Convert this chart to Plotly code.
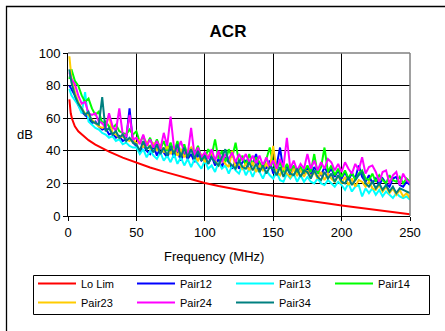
import plotly.graph_objects as go

# ---------------- data ----------------
freq = [1.0] + [2.5 * i for i in range(1, 101)]

lolim_freq = [1, 2, 3, 4, 5, 7.5, 10, 15, 20, 25, 30, 40, 50, 60, 70, 80, 90, 100,
              110, 120, 130, 140, 150, 160, 170, 180, 190, 200, 210, 220, 230, 240, 250]
lolim = [71.5, 63, 59.5, 57, 55, 52, 50, 46.5, 43.8, 41.5, 39.5, 35.8, 32.6, 29.8, 27.2, 24.8, 22.5, 20.3,
         18.4, 16.7, 15.1, 13.7, 12.4, 11.1, 9.9, 8.7, 7.6, 6.5, 5.4, 4.3, 3.2, 2.1, 1.0]

pair12 = [80, 78, 74, 68, 64, 62, 60, 57, 58, 55,
          53, 54, 50, 51, 48, 49, 46, 47, 66, 45,
          43, 39, 44, 40, 38, 43, 37, 42, 39, 36,
          41, 36, 40, 34, 39, 35, 38, 33, 38, 34,
          36, 32, 37, 31, 35, 30, 36, 33, 29, 34,
          29, 33, 34, 28, 32, 38, 28, 32, 29, 34,
          26, 31, 42, 27, 31, 25, 30, 25, 29, 26,
          29, 25, 30, 27, 25, 30, 26, 29, 24, 28,
          23, 27, 22, 26, 23, 31, 24, 21, 25, 20,
          23, 19, 23, 20, 18, 23, 24, 19, 18, 21,
          19]

pair13 = [78, 74, 71, 68, 63, 76, 58, 56, 54, 53,
          51, 50, 48, 49, 46, 47, 44, 45, 43, 42,
          42, 38, 41, 36, 40, 37, 35, 39, 34, 37,
          33, 38, 32, 36, 31, 35, 30, 35, 32, 29,
          34, 29, 31, 27, 33, 29, 31, 26, 31, 28,
          26, 31, 25, 29, 24, 29, 27, 23, 28, 25,
          23, 27, 22, 21, 26, 23, 26, 21, 25, 21,
          24, 21, 20, 23, 20, 19, 22, 20, 18, 21,
          19, 16, 20, 15, 18, 19, 12, 17, 14, 17,
          13, 16, 12, 15, 13, 11, 14, 12, 11, 12,
          10]

pair14 = [84, 90, 83, 80, 74, 70, 72, 66, 62, 64,
          57, 58, 55, 54, 56, 52, 51, 50, 53, 50,
          52, 45, 49, 43, 48, 42, 47, 41, 46, 40,
          45, 39, 46, 38, 44, 37, 42, 38, 43, 36,
          35, 41, 37, 47, 35, 40, 33, 41, 36, 45,
          33, 37, 31, 38, 31, 36, 33, 29, 35, 42,
          32, 28, 33, 27, 32, 28, 31, 26, 30, 27,
          31, 27, 38, 26, 30, 42, 27, 31, 25, 29,
          24, 28, 23, 27, 22, 26, 28, 23, 22, 26,
          21, 25, 22, 20, 25, 22, 21, 24, 20, 23,
          21]

pair23 = [98, 85, 76, 70, 66, 63, 62, 59, 57, 55,
          54, 55, 62, 51, 50, 48, 49, 47, 46, 48,
          44, 47, 42, 46, 41, 45, 40, 44, 39, 43,
          38, 42, 37, 41, 36, 40, 42, 37, 34, 38,
          33, 37, 39, 34, 31, 35, 32, 30, 40, 29,
          33, 29, 32, 28, 33, 27, 31, 28, 32, 29,
          43, 27, 25, 30, 26, 24, 29, 25, 28, 24,
          28, 24, 27, 23, 27, 22, 26, 23, 21, 25,
          20, 24, 19, 23, 18, 22, 21, 18, 21, 17,
          16, 19, 15, 18, 14, 17, 13, 16, 12, 14,
          11]

pair24 = [88, 84, 81, 74, 69, 70, 63, 62, 63, 58,
          57, 54, 63, 55, 52, 66, 50, 49, 62, 47,
          48, 44, 50, 43, 47, 42, 46, 41, 51, 43,
          61, 42, 40, 46, 39, 38, 54, 37, 42, 36,
          39, 35, 41, 34, 40, 33, 38, 35, 39, 33,
          38, 34, 38, 33, 37, 32, 37, 31, 36, 30,
          34, 29, 35, 30, 48, 29, 34, 28, 32, 29,
          38, 29, 34, 28, 33, 29, 35, 33, 28, 32,
          27, 33, 29, 26, 32, 28, 36, 26, 30, 31,
          27, 21, 27, 28, 20, 25, 27, 19, 26, 22,
          20]

pair34 = [90, 82, 74, 69, 66, 62, 64, 58, 57, 56,
          73, 52, 54, 50, 52, 48, 50, 46, 48, 45,
          44, 40, 46, 41, 43, 39, 44, 38, 42, 37,
          43, 38, 44, 36, 42, 36, 41, 35, 40, 34,
          37, 32, 36, 33, 31, 36, 41, 33, 31, 29,
          34, 30, 29, 33, 28, 32, 27, 31, 26, 30,
          29, 25, 30, 24, 29, 26, 25, 29, 24, 28,
          27, 23, 28, 24, 22, 27, 23, 26, 21, 25,
          21, 20, 24, 19, 22, 25, 27, 20, 18, 21,
          17, 20, 16, 19, 15, 18, 14, 17, 16, 15,
          14]

names = ["Lo Lim", "Pair12", "Pair13", "Pair14", "Pair23", "Pair24", "Pair34"]
colors = ["#FF0000", "#0000FF", "#00FFFF", "#00FF00", "#FFCC00", "#FF00FF", "#008080"]
x_ticks = [0, 50, 100, 150, 200, 250]
y_ticks = [0, 20, 40, 60, 80, 100]

# ---------------- layout helpers ----------------
W, H = 445, 331
L, R, T, B = 68, 35, 53, 115
PW = W - L - R
PH = H - T - B


def px(x):
    return (x - L) / PW


def py(y):
    return (H - B - y) / PH


FONT = "Liberation Sans, Arial, sans-serif"

fig = go.Figure()
xs_list = [lolim_freq, freq, freq, freq, freq, freq, freq]
ys_list = [lolim, pair12, pair13, pair14, pair23, pair24, pair34]
for name, xs, ys, col in zip(names, xs_list, ys_list, colors):
    fig.add_trace(go.Scatter(x=xs, y=ys, name=name, mode="lines",
                             line=dict(color=col, width=2)))

axis_common = dict(
    showgrid=True, gridcolor="black", gridwidth=1,
    showline=True, linecolor="black", linewidth=1,
    ticks="outside", ticklen=4, tickcolor="black", tickwidth=1,
    zeroline=False, tickfont=dict(family=FONT, size=13, color="black"),
)

fig.update_layout(
    width=W, height=H,
    margin=dict(l=L, r=R, t=T, b=B, autoexpand=False),
    paper_bgcolor="white", plot_bgcolor="white",
    font=dict(family=FONT, size=13, color="black"),
    title=dict(text="<b>ACR</b>", x=228 / W, xanchor="center",
               y=1 - 31 / H, yanchor="middle",
               font=dict(family=FONT, size=17, color="black")),
    xaxis=dict(range=[0, 250], tickvals=x_ticks, **axis_common),
    yaxis=dict(range=[0, 100], tickvals=y_ticks, **axis_common),
    showlegend=True,
    legend=dict(orientation="h", x=px(33), xanchor="left", y=py(269), yanchor="top",
                bgcolor="rgba(0,0,0,0)", borderwidth=0,
                font=dict(family=FONT, size=11, color="black"),
                entrywidth=46, entrywidthmode="pixels", itemwidth=38,
                tracegroupgap=0),
    annotations=[
        dict(text="dB", x=px(25), y=py(134), xref="paper", yref="paper",
             showarrow=False, xanchor="center", yanchor="middle",
             font=dict(family=FONT, size=13, color="black")),
        dict(text="Frequency (MHz)", x=px(214), y=py(256), xref="paper", yref="paper",
             showarrow=False, xanchor="center", yanchor="middle",
             font=dict(family=FONT, size=13, color="black")),
    ],
    shapes=[
        dict(type="rect", xref="paper", yref="paper", x0=px(6.5), y0=py(6.5),
             x1=px(480), y1=py(360), line=dict(color="black", width=1.3),
             fillcolor="rgba(0,0,0,0)", layer="below"),
        dict(type="rect", xref="paper", yref="paper", x0=px(33.5), y0=py(275.5),
             x1=px(429.5), y1=py(314.5), line=dict(color="black", width=1),
             fillcolor="rgba(0,0,0,0)", layer="above"),
        dict(type="line", xref="paper", yref="paper", x0=0, y0=1, x1=1, y1=1,
             line=dict(color="#808080", width=1.5), layer="above"),
        dict(type="line", xref="paper", yref="paper", x0=1, y0=0, x1=1, y1=1,
             line=dict(color="#808080", width=1.5), layer="above"),
    ],
)

fig.write_html("out.html", config={"displayModeBar": False},
               post_script="document.body.style.margin='0';")
